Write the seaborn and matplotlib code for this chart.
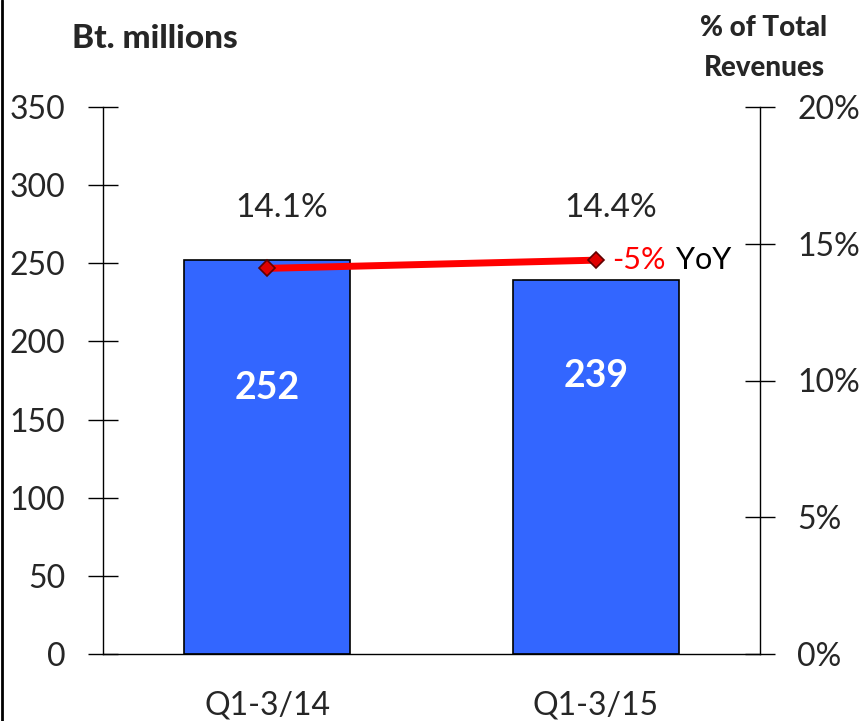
import matplotlib
matplotlib.use("Agg")
import matplotlib.pyplot as plt
import seaborn as sns
import pandas as pd
from matplotlib.lines import Line2D

categories = ["Q1-3/14", "Q1-3/15"]
revenue = [252, 239]
pct_total = [14.1, 14.4]
pct_labels = ["14.1%", "14.4%"]
yoy_label = "-5%"
left_ticks = [0, 50, 100, 150, 200, 250, 300, 350]
right_ticks = [0, 5, 10, 15, 20]

sns.set_theme(style="white")
plt.rcParams['font.family'] = ['Lato', 'DejaVu Sans']

df = pd.DataFrame({"cat": categories, "rev": revenue, "pct": pct_total})

fig = plt.figure(figsize=(8.67, 7.21), dpi=100)
ax = fig.add_axes([103/867, 1-654/721, (760-103)/867, (654-107)/721])

sns.barplot(data=df, x="cat", y="rev", ax=ax, color="#3366FF", width=0.505,
            edgecolor="black", linewidth=1.2, saturation=1)
ax.set_xlim(-0.5, 1.5)
ax.set_ylim(0, 350)
ax.set_yticks(left_ticks)
ax.set_yticklabels([str(t) for t in left_ticks], fontsize=23)
ax.set_xticks([-0.5, 0.5, 1.5], minor=False)
ax.set_xticklabels([])
ax.set_xticks([0, 1], minor=True)
ax.set_xticklabels(categories, minor=True, fontsize=23)
ax.tick_params(axis="x", which="minor", length=0, pad=26)
ax.tick_params(axis="x", which="major", direction="inout", length=24, width=1, color="black")
ax.tick_params(axis="y", direction="inout", length=22, width=1, color="black", pad=16)
ax.set_xlabel("")
ax.set_ylabel("")
for s in ["top", "right"]:
    ax.spines[s].set_visible(False)
ax.spines["left"].set_color("black")
ax.spines["bottom"].set_color("black")
ax.spines["left"].set_linewidth(1)
ax.spines["bottom"].set_linewidth(1)

label_y = [170, 178]
for i, v in enumerate(revenue):
    ax.text(i, label_y[i], str(v), ha="center", va="center", color="white",
            fontsize=27, fontweight="bold")

ax2 = ax.twinx()
sns.lineplot(data=df, x="cat", y="pct", ax=ax2, color="#FF0000", linewidth=5,
             marker="D", markersize=8, markerfacecolor="#E00000",
             markeredgecolor="#600000", markeredgewidth=1.2, sort=False)
ax2.set_ylim(0, 20)
ax2.set_xlim(-0.5, 1.5)
ax2.set_yticks(right_ticks)
ax2.set_yticklabels([f"{t}%" for t in right_ticks], fontsize=23)
ax2.tick_params(axis="y", direction="inout", length=22, width=1, color="black", pad=16)
ax2.set_ylabel("")
ax2.set_xlabel("")
for s in ["top", "left", "bottom"]:
    ax2.spines[s].set_visible(False)
ax2.spines["right"].set_color("black")
ax2.spines["right"].set_linewidth(1)

for i, lab in enumerate(pct_labels):
    ax2.text(i + 0.045, 16.3, lab, ha="center", va="center", fontsize=24)

ax2.text(1.05, 14.4, yoy_label, color="#FF0000", fontsize=22, ha="left", va="center")
ax2.text(1.245, 14.4, "YoY", color="black", fontsize=22, ha="left", va="center")

fig.text(155/867, 1-38/721, "Bt. millions", fontsize=24, fontweight="black", ha="center", va="center")
fig.text(764/867, 1-28/721, "% of Total", fontsize=20, fontweight="black", ha="center", va="center")
fig.text(764/867, 1-68/721, "Revenues", fontsize=20, fontweight="black", ha="center", va="center")

fig.add_artist(Line2D([2/867, 2/867], [0, 1], color="black", linewidth=2, transform=fig.transFigure))

fig.savefig("out.png", dpi=100, facecolor="white")
